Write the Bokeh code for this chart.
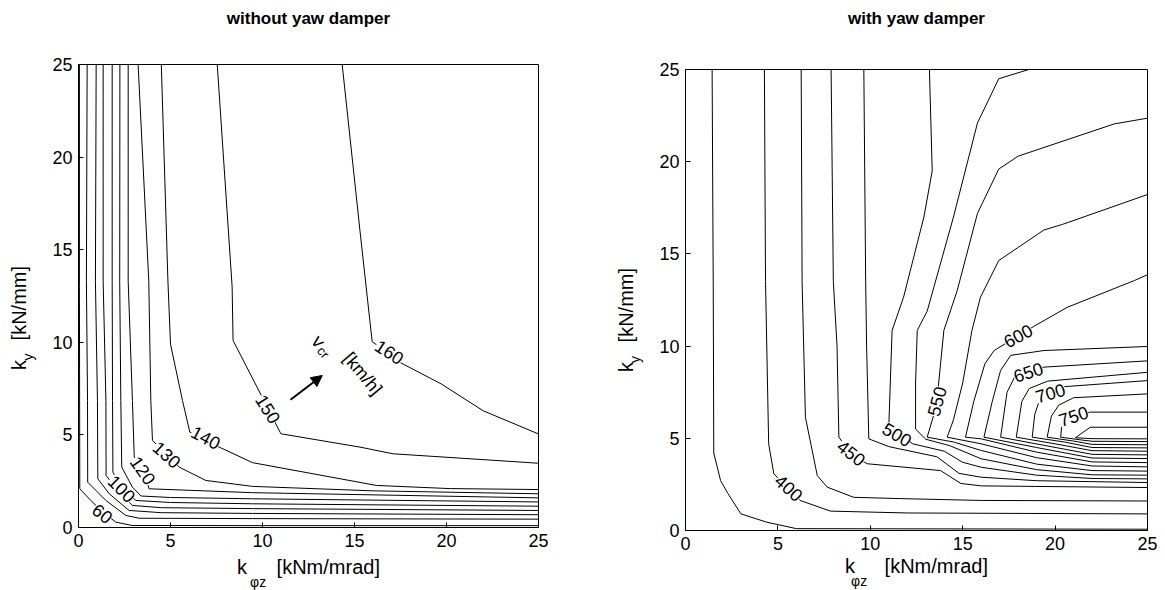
from bokeh.plotting import figure
from bokeh.layouts import row, column
from bokeh.models import Range1d, FixedTicker, Label, Arrow, NormalHead, Spacer, LinearAxis
from bokeh.embed import file_html
from bokeh.resources import INLINE
import math

# ---------------- data ----------------
ticks = [0, 5, 10, 15, 20, 25]
tick_labels = ["0", "5", "10", "15", "20", "25"]

# left panel: critical speed v_cr [km/h], without yaw damper
left_levels = [60, 70, 80, 90, 100, 110, 120, 130, 140, 150, 160]
left_xs = [
    [0.05, 0.05, 0.07, 0.67, 1.3, 2.03, 2.9, 10, 25],
    [0.47, 0.43, 0.49, 0.5, 1.49, 2.57, 3.3, 9.46, 25],
    [0.96, 0.92, 1.03, 1.05, 1.67, 2.75, 4.5, 9.46, 25],
    [1.34, 1.34, 1.49, 1.5, 2.2, 2.93, 4.5, 9.46, 25],
    [1.83, 1.83, 1.85, 1.87, 2.35, 3.12, 5.0, 9.46, 25],
    [2.25, 2.24, 2.3, 2.35, 2.93, 3.4, 5.0, 9.46, 25],
    [2.7, 2.7, 2.93, 3.03, 3.5, 3.84, 9.46, 25],
    [3.24, 3.82, 3.93, 4.02, 4.8, 5.47, 6.92, 9.46, 16, 25],
    [4.5, 4.86, 5.0, 5.65, 6.05, 7.65, 9.46, 16.2, 20.2, 25],
    [7.54, 8.35, 8.4, 9.9, 11.0, 15.3, 17.1, 25],
    [14.33, 15.3, 15.96, 17.5, 19.7, 22.0, 25],
]
left_ys = [
    [25, 13, 2.09, 1.46, 0.85, 0.29, 0.11, 0.1, 0.1],
    [25, 13.3, 6.86, 2.45, 1.46, 0.65, 0.5, 0.48, 0.45],
    [25, 13.3, 6.86, 2.63, 1.82, 0.92, 0.8, 0.76, 0.69],
    [25, 13.3, 6.86, 2.81, 1.9, 1.19, 1.07, 1.02, 0.92],
    [25, 13.3, 6.86, 2.99, 2.15, 1.46, 1.35, 1.28, 1.15],
    [25, 13.3, 6.86, 3.26, 2.18, 1.7, 1.62, 1.55, 1.38],
    [25, 13.3, 6.86, 3.8, 3.08, 2.09, 1.88, 1.6],
    [25, 13.3, 6.86, 4.7, 3.93, 3.26, 2.54, 2.22, 1.98, 1.82],
    [25, 13.3, 9.9, 6.86, 5.15, 4.34, 3.5, 2.27, 2.1, 2.05],
    [25, 13.0, 10.1, 7.2, 5.06, 4.34, 3.98, 3.47],
    [25, 16.0, 10.04, 8.9, 7.76, 6.3, 5.05],
]
left_label_text = ["60", "100", "120", "130", "140", "150", "160"]
left_label_x = [1.3, 2.35, 3.5, 4.8, 6.92, 10.3, 16.9]
left_label_y = [0.75, 2.09, 3.08, 3.93, 4.85, 6.4, 9.47]
left_label_angle = [-38, -45, -55, -42, -28, -58, -33]

# right panel: critical speed v_cr [km/h], with yaw damper
right_levels = [375, 400, 425, 450, 475, 500, 525, 550, 575, 600, 625, 650, 675, 700, 725, 750, 775]
right_xs = [
    [1.44, 1.5, 1.53, 1.9, 2.3, 3.0, 4.4, 6.0, 25],
    [4.27, 4.33, 4.5, 4.78, 6.2, 7.85, 12, 25],
    [6.26, 6.31, 6.49, 7.13, 7.67, 9.1, 11.6, 16, 25],
    [7.88, 8.0, 8.2, 8.3, 9.0, 9.83, 13.8, 14.9, 16, 20, 25],
    [9.65, 9.75, 9.8, 9.92, 11, 13.6, 14.8, 16, 19, 25],
    [13.2, 13.35, 12.9, 11.8, 11.18, 11.0, 12.3, 14, 15, 16, 19, 22, 25],
    [18.58, 16.95, 15.8, 14.5, 13.08, 12.54, 12.45, 12.45, 13.0, 14.3, 16, 19, 22, 25],
    [25, 23.2, 18.0, 16.95, 15.8, 14.7, 13.98, 13.7, 13.5, 13.08, 14.5, 16, 19, 22, 25],
    [25, 20.4, 19.4, 16.95, 15.96, 15.5, 15.0, 14.5, 14.16, 16, 19, 22, 25],
    [25, 24.3, 20.65, 18.9, 16.7, 16.2, 15.6, 15.15, 16, 19, 22, 25],
    [25, 19.4, 17.6, 17.05, 16.6, 16.15, 19, 22, 25],
    [25, 19.4, 17.8, 17.4, 17.05, 19.5, 22, 25],
    [25, 19.6, 18.6, 18.2, 17.9, 20, 22, 25],
    [25, 20.5, 19.2, 18.9, 18.76, 20.5, 22, 25],
    [25, 21, 20.2, 19.8, 19.57, 21, 22, 25],
    [25, 21.9, 20.6, 20.35, 20.3, 21.5, 22, 25],
    [25, 21.9, 21.1, 22, 25],
]
right_ys = [
    [25, 13.5, 4.2, 2.7, 2.0, 0.9, 0.45, 0.1, 0.07],
    [25, 13.5, 4.7, 3.07, 1.63, 1.05, 0.95, 0.9],
    [25, 13.5, 6.14, 2.98, 2.35, 1.8, 1.73, 1.63, 1.6],
    [25, 13.5, 10, 5.06, 4.1, 3.62, 3.25, 2.55, 2.42, 2.38, 2.33],
    [25, 13.5, 10, 4.97, 4.55, 4.0, 3.1, 2.89, 2.7, 2.6],
    [25, 19.5, 17, 12.65, 10.85, 5.6, 4.7, 4.3, 3.7, 3.43, 3.0, 2.82, 2.8],
    [25, 24.5, 22.1, 17, 11.9, 10.85, 8, 5.5, 4.95, 4.6, 3.89, 3.3, 3.02, 3.0],
    [22.36, 22.05, 20.3, 19.6, 17.2, 13, 10.85, 8, 6.5, 5.06, 4.8, 4.34, 3.6, 3.25, 3.22],
    [18.22, 16.6, 16.3, 14.64, 12.65, 10.85, 8, 6, 5.06, 4.7, 3.95, 3.5, 3.45],
    [13.87, 13.56, 12.1, 11.1, 9.76, 9.04, 7, 5.06, 4.97, 4.25, 3.72, 3.68],
    [9.98, 9.76, 9.5, 8.68, 7, 5.06, 4.5, 3.93, 3.9],
    [9.2, 8.86, 8.3, 7.5, 5.06, 4.6, 4.13, 4.1],
    [8.58, 8.1, 7.7, 7.0, 5.06, 4.7, 4.33, 4.3],
    [8.13, 7.8, 7.2, 6.3, 5.06, 4.8, 4.5, 4.48],
    [7.41, 7.2, 6.8, 6.2, 5.06, 4.85, 4.67, 4.65],
    [6.42, 6.42, 6.0, 5.6, 5.06, 4.9, 4.84, 4.82],
    [5.6, 5.6, 5.03, 4.98, 4.97],
]
right_label_text = ["400", "450", "500", "550", "600", "650", "700", "750"]
right_label_x = [5.59, 8.97, 11.45, 13.6, 18.0, 18.55, 19.75, 21.0]
right_label_y = [2.3, 4.2, 5.2, 7.0, 10.55, 8.58, 7.45, 6.2]
right_label_angle = [-42, -38, -30, 75, 28, 18, 16, 18]

titles = ["without yaw damper", "with yaw damper"]
x_label_main = "k\u2003\u2009 [kNm/mrad]"
x_label_sub = "\u03c6z"
y_label_main = "k\u2002\u2009 [kN/mm]"
y_label_sub = "y"

FONT = "Liberation Sans"
EM = "\u2003"


def bare_axis(label, size, standoff, bold=False):
    ax = LinearAxis(ticker=FixedTicker(ticks=[]), axis_label=label,
                    axis_line_color=None, major_tick_line_color=None,
                    minor_tick_line_color=None, major_tick_in=0, major_tick_out=0,
                    minor_tick_in=0, minor_tick_out=0, major_label_standoff=0,
                    axis_label_standoff=standoff, axis_label_text_font=FONT,
                    axis_label_text_font_size=size, axis_label_text_color="black",
                    axis_label_text_font_style="bold" if bold else "normal")
    return ax


def make_panel(title, xs, ys, lab_t, lab_x, lab_y, lab_a, border_left,
               fw, fh, border_right, border_bottom, title_standoff, xlab_standoff,
               xsub_pad, ymain_pad, ysub_pad):
    p = figure(title=None, output_backend="svg", toolbar_location=None,
               frame_width=fw, frame_height=fh,
               min_border_left=border_left, min_border_right=border_right,
               min_border_top=64, min_border_bottom=border_bottom,
               x_range=Range1d(0, 25), y_range=Range1d(0, 25))
    p.grid.visible = False
    p.outline_line_color = "black"
    p.outline_line_width = 1
    p.background_fill_color = "white"
    p.border_fill_color = "white"
    for ax in (p.xaxis[0], p.yaxis[0]):
        ax.ticker = FixedTicker(ticks=ticks)
        ax.major_label_overrides = {t: s for t, s in zip(ticks, tick_labels)}
        ax.major_tick_in = 5
        ax.major_tick_out = 0
        ax.major_tick_line_color = "black"
        ax.minor_tick_line_color = None
        ax.axis_line_color = "black"
        ax.major_label_text_font = FONT
        ax.major_label_text_font_size = "18px"
        ax.major_label_text_color = "black"
        ax.axis_label_text_font = FONT
        ax.axis_label_text_color = "black"
        ax.axis_label_text_font_style = "normal"
    xa, ya = p.xaxis[0], p.yaxis[0]
    xa.major_label_standoff = 6
    ya.major_label_standoff = 6

    # x label (main) on the x axis, subscript on an outer bare axis
    xa.axis_label = x_label_main
    xa.axis_label_text_font_size = "20px"
    xa.axis_label_standoff = xlab_standoff
    p.add_layout(bare_axis(x_label_sub + EM * xsub_pad[0] + xsub_pad[1], "14px", -7), "below")

    # y label: subscript on the y axis, main text on an outer bare axis
    ya.axis_label = y_label_sub + EM * ysub_pad[0] + ysub_pad[1]
    ya.axis_label_text_font_size = "14px"
    ya.axis_label_standoff = 13
    p.add_layout(bare_axis(y_label_main + EM * ymain_pad[0] + ymain_pad[1], "20px", -12), "left")

    # title on a bare axis above the frame
    p.add_layout(bare_axis(title, "17px", title_standoff, bold=True), "above")

    p.multi_line(xs, ys, line_color="black", line_width=1)

    for t, x, y, a in zip(lab_t, lab_x, lab_y, lab_a):
        p.add_layout(Label(x=x, y=y, text=t, angle=math.radians(a),
                           text_align="center", text_baseline="middle",
                           text_font=FONT, text_font_size="18px", text_color="black",
                           background_fill_color="white"))
    return p


p1 = make_panel(titles[0], left_xs, left_ys, left_label_text,
                left_label_x, left_label_y, left_label_angle,
                78, 460, 463, 62, 62, 37, 6,
                (7, "\u2009"), (2, "\u2009"), (8, "\u2002\u2009"))
p2 = make_panel(titles[1], right_xs, right_ys, right_label_text,
                right_label_x, right_label_y, right_label_angle,
                85, 462, 461, 10, 56, 42, 2,
                (8, "\u2009"), (2, ""), (8, "\u2002"))

# v_cr annotation on the left panel
p1.add_layout(Label(x=13.04, y=10.04, text="v", angle=math.radians(-50),
                    text_align="center", text_baseline="middle",
                    text_font=FONT, text_font_size="19px", text_color="black"))
p1.add_layout(Label(x=13.3, y=9.45, text="cr", angle=math.radians(-50),
                    text_align="center", text_baseline="middle",
                    text_font=FONT, text_font_size="13px", text_color="black"))
p1.add_layout(Label(x=15.45, y=8.3, text="[km/h]", angle=math.radians(-50),
                    text_align="center", text_baseline="middle",
                    text_font=FONT, text_font_size="18px", text_color="black"))
p1.add_layout(Arrow(end=NormalHead(size=11, fill_color="black", line_color="black"),
                    x_start=11.52, y_start=6.9, x_end=13.25, y_end=8.21,
                    line_color="black", line_width=2))

layout = row(p1, column(Spacer(height=5), p2))
open("out.html", "w").write(file_html(layout, INLINE))
